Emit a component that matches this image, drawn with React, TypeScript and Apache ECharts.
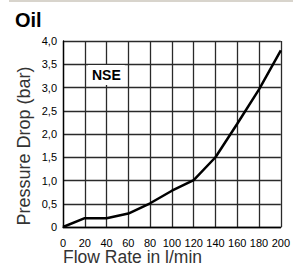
import React, { useEffect, useRef } from "react";
import * as echarts from "echarts";

const flowRates = [0, 20, 40, 60, 80, 100, 120, 140, 160, 180, 200];
const pressureDrop = [0.0, 0.19, 0.19, 0.29, 0.51, 0.78, 1.01, 1.5, 2.22, 2.96, 3.8];
const chartTitle = "Oil";
const seriesLabel = "NSE";
const xAxisName = "Flow Rate in l/min";
const yAxisName = "Pressure Drop (bar)";

const FONT = "'Liberation Sans', Arial, Helvetica, sans-serif";

export default function App() {
  const ref = useRef<HTMLDivElement>(null);
  useEffect(() => {
    if (!ref.current) return;
    const chart = echarts.init(ref.current, null, { renderer: "svg" });
    const gridLine = { show: true, lineStyle: { color: "#2a2a2a", width: 1.3, type: "solid", opacity: 1 } };
    chart.setOption({
      animation: false,
      backgroundColor: "#ffffff",
      grid: { left: 63, right: 9, top: 41, bottom: 39, containLabel: false },
      xAxis: {
        type: "value",
        min: 0,
        max: 200,
        interval: 20,
        axisLine: { show: true, lineStyle: { color: "#000", width: 1.3 } },
        axisTick: { show: false },
        axisLabel: { color: "#000", fontSize: 11, fontFamily: FONT, margin: 10 },
        splitLine: gridLine,
      },
      yAxis: {
        type: "value",
        min: 0,
        max: 4,
        interval: 0.5,
        axisLine: { show: true, lineStyle: { color: "#000", width: 1.3 } },
        axisTick: { show: false },
        axisLabel: {
          color: "#000",
          fontSize: 11,
          fontFamily: FONT,
          margin: 6,
          formatter: (v: number) => (v === 0 ? "0" : v.toFixed(1).replace(".", ",")),
        },
        splitLine: gridLine,
      },
      series: [
        {
          type: "line",
          data: flowRates.map((x, i) => [x, pressureDrop[i]]),
          symbol: "none",
          smooth: false,
          z: 10,
          lineStyle: { color: "#000", width: 2.5 },
        },
      ],
      graphic: [
        { type: "rect", shape: { x: 9, y: 0, width: 284, height: 2 }, style: { fill: "#d8d4cc" } },
        {
          type: "text",
          x: 15,
          y: 20,
          z: 20,
          style: { text: chartTitle, font: `bold 20px ${FONT}`, fill: "#000", align: "left", verticalAlign: "middle" },
        },
        {
          type: "text",
          x: 88,
          y: 75,
          z: 20,
          style: {
            text: seriesLabel,
            font: `bold 14px ${FONT}`,
            fill: "#000",
            align: "left",
            verticalAlign: "middle",
            backgroundColor: "#fff",
            padding: [3, 4, 3, 4],
          },
        },
        {
          type: "text",
          x: 63,
          y: 257,
          style: { text: xAxisName, font: `17.5px ${FONT}`, fill: "#333", align: "left", verticalAlign: "middle" },
        },
        {
          type: "text",
          x: 24,
          y: 146,
          rotation: Math.PI / 2,
          style: { text: yAxisName, font: `18px ${FONT}`, fill: "#333", align: "center", verticalAlign: "middle" },
        },
      ],
    });
    return () => chart.dispose();
  }, []);
  return (
    <div
      ref={ref}
      style={{ position: "fixed", left: 0, top: 0, width: 293, height: 266 }}
    />
  );
}
